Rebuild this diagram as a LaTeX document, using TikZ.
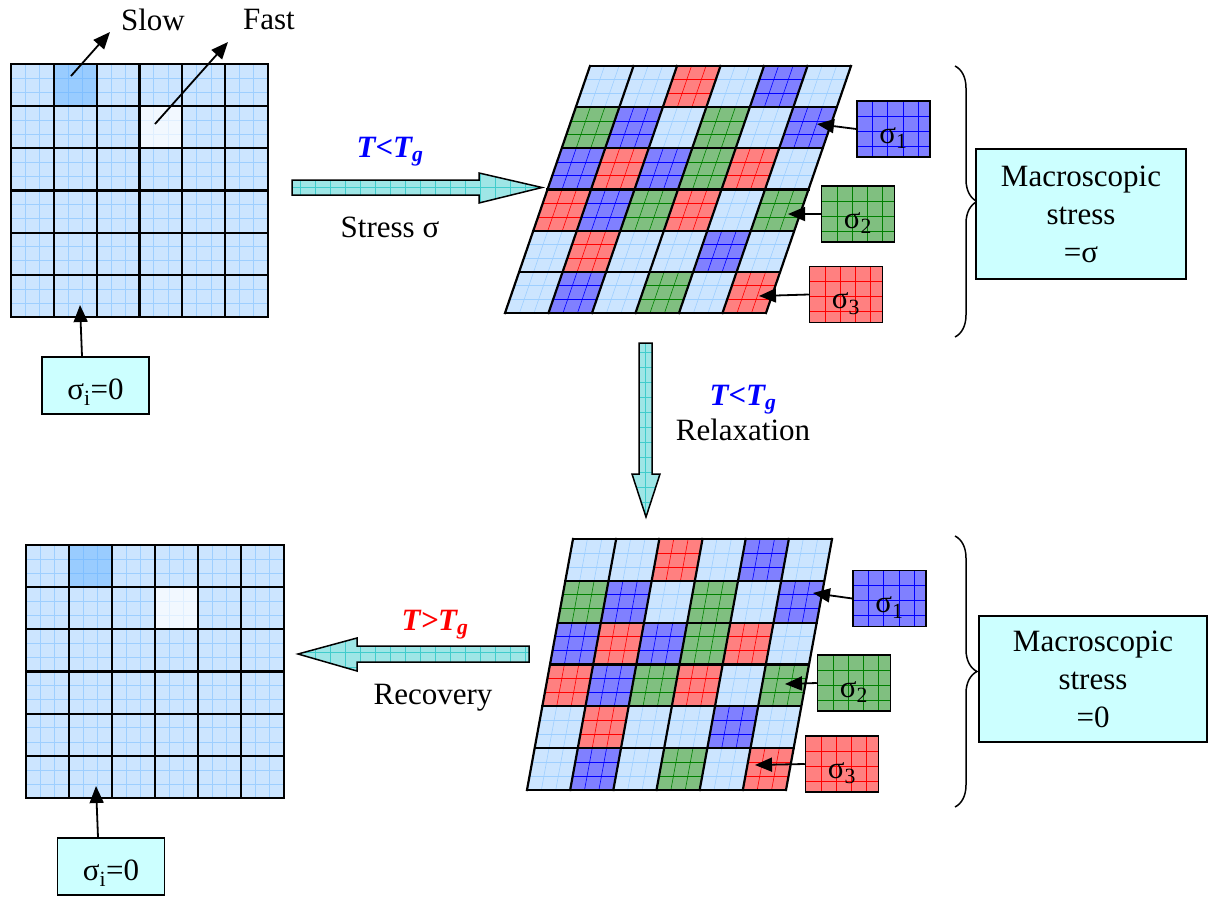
\documentclass[tikz,border=0pt]{standalone}
\usepackage{fontspec}
\setmainfont{Liberation Serif}
\usetikzlibrary{arrows.meta,decorations.pathreplacing}

% cell fills and their fine grid lines
\definecolor{cellL}{HTML}{CCE5FF}\definecolor{lineL}{HTML}{9ECFFF}
\definecolor{cellS}{HTML}{99CCFF}\definecolor{lineS}{HTML}{80BFFF}
\definecolor{cellF}{HTML}{F2F8FF}\definecolor{lineF}{HTML}{E0EFFF}
\definecolor{cellR}{HTML}{FF8080}\definecolor{lineR}{HTML}{FF0000}
\definecolor{cellB}{HTML}{8080FF}\definecolor{lineB}{HTML}{0000FF}
\definecolor{cellG}{HTML}{80BF80}\definecolor{lineG}{HTML}{008000}
\definecolor{boxcyan}{HTML}{CCFFFF}
\definecolor{arrowfill}{HTML}{9EE6E6}
\definecolor{arrowgrid}{HTML}{40CCCC}

\tikzset{
  subline/.style={line width=0.6pt},
  cellwall/.style={line width=2.2pt,line cap=rect},
  pointer/.style={line width=1.8pt,-{Triangle[length=17pt,width=14pt]}},
  sigmabox/.style={draw,line width=1.5pt,fill=cell#1,minimum width=73pt,minimum height=56pt,
    inner sep=0pt,text height=32pt,text depth=4pt,
    path picture={
      \foreach \k in {1,...,4}
        \draw[subline,draw=line#1] ([xshift=\k*15.3pt]path picture bounding box.north west)
          -- ([xshift=\k*15.3pt]path picture bounding box.south west);
      \foreach \k in {1,2,3}
        \draw[subline,draw=line#1] ([yshift=-\k*15pt]path picture bounding box.north west)
          -- ([yshift=-\k*15pt]path picture bounding box.north east);
    }},
  zerobox/.style={draw,line width=1.5pt,fill=boxcyan,minimum width=107pt,minimum height=57pt,
    inner sep=0pt,text height=32pt,text depth=4pt},
  macrobox/.style={draw,line width=1.5pt,fill=boxcyan,align=center,inner sep=0pt},
  blockarrow/.style={fill=arrowfill,draw,line width=1.5pt,
    path picture={
      \draw[arrowgrid,line width=0.6pt,step=15pt,shift={(0,7.5)}]
        ([shift={(-20pt,-20pt)}]path picture bounding box.south west)
        grid ([shift={(20pt,20pt)}]path picture bounding box.north east);
    }},
  macrobrace/.style={decorate,decoration={brace,amplitude=22pt},line width=1.5pt},
  tcond/.style={font=\fontsize{31}{38}\selectfont\bfseries\itshape}
}

% row lists of cell colours
\newcommand{\relaxedcells}{{L,S,L,L,L,L},{L,L,L,F,L,L},{L,L,L,L,L,L},{L,L,L,L,L,L},{L,L,L,L,L,L},{L,L,L,L,L,L}}
\newcommand{\stressedcells}{{L,L,R,L,B,L},{G,B,L,G,L,B},{B,R,B,G,R,L},{R,B,G,R,L,G},{L,R,L,L,B,L},{L,B,L,G,L,R}}

% 6x6 block of cells in the current (possibly slanted) x/y system
\newcommand{\domaingrid}[1]{%
  \foreach \cols [count=\row from 0] in #1 {
    \foreach \c [count=\col from 0] in \cols {
      \fill[fill=cell\c] (\col,\row) -- ++(1,0) -- ++(0,1) -- ++(-1,0) -- cycle;
      \foreach \k in {1,2} {
        \draw[subline,draw=line\c] (\col+\k/3,\row) -- ++(0,1);
        \draw[subline,draw=line\c] (\col,\row+\k/3) -- ++(1,0);
      }
    }
  }
  \foreach \i in {0,...,6} {
    \draw[cellwall] (\i,0) -- (\i,6);
    \draw[cellwall] (0,\i) -- (6,\i);
  }
}

\begin{document}
\begin{tikzpicture}[x=1pt,y=-1pt,every node/.style={font=\fontsize{31}{38}\selectfont}]
	\useasboundingbox (0,0) rectangle (1208,897);
	
	% unstressed sample
	\begin{scope}[shift={(11,64)},x={(42.83pt,0pt)},y={(0pt,-42.17pt)}]
		\domaingrid{\relaxedcells}
	\end{scope}
	
	% sheared sample under stress
	\begin{scope}[shift={(590,66)},x={(43.5pt,0pt)},y={(-14.17pt,-41.17pt)}]
		\domaingrid{\stressedcells}
	\end{scope}
	
	% sheared sample after relaxation
	\begin{scope}[shift={(573,539)},x={(43.17pt,0pt)},y={(-7.67pt,-41.83pt)}]
		\domaingrid{\stressedcells}
	\end{scope}
	
	% recovered sample
	\begin{scope}[shift={(26,545)},x={(43pt,0pt)},y={(0pt,-42.17pt)}]
		\domaingrid{\relaxedcells}
	\end{scope}
	
	% slow and fast domains
	\node (slow) at (153,20) {Slow};
	\node (fast) at (269,20) {Fast};
	\coordinate (slowcell) at (71,76);
	\coordinate (slowtip) at (110,32);
	\coordinate (fastcell) at (155,124);
	\coordinate (fasttip) at (228,42);
	\draw[pointer] (slowcell) -- (slowtip);
	\draw[pointer] (fastcell) -- (fasttip);
	
	% local stress boxes
	\node[zerobox] (zerotop) at (95.5,385.5) {σ\textsubscript{i}=0};
	\node[zerobox] (zerobot) at (111,866.5) {σ\textsubscript{i}=0};
	\coordinate (hitzt) at (80,305);
	\coordinate (hitzb) at (96,786);
	\draw[pointer] ([xshift=-13.5pt]zerotop.north) -- (hitzt);
	\draw[pointer] ([xshift=-13pt]zerobot.north) -- (hitzb);
	
	\node[sigmabox=B] (s1top) at (893.5,129) {σ\textsubscript{1}};
	\node[sigmabox=G] (s2top) at (858,214) {σ\textsubscript{2}};
	\node[sigmabox=R] (s3top) at (846,294.5) {σ\textsubscript{3}};
	\coordinate (hit1t) at (817,124);
	\coordinate (hit2t) at (788,214);
	\coordinate (hit3t) at (759,296);
	\draw[pointer] (s1top.west) -- (hit1t);
	\draw[pointer] (s2top.west) -- (hit2t);
	\draw[pointer] (s3top.west) -- (hit3t);
	
	\node[sigmabox=B] (s1bot) at (889.5,598.5) {σ\textsubscript{1}};
	\node[sigmabox=G] (s2bot) at (854,683) {σ\textsubscript{2}};
	\node[sigmabox=R] (s3bot) at (842,764) {σ\textsubscript{3}};
	\coordinate (hit1b) at (813,593);
	\coordinate (hit2b) at (785,684);
	\coordinate (hit3b) at (755,765);
	\draw[pointer] (s1bot.west) -- (hit1b);
	\draw[pointer] (s2bot.west) -- (hit2b);
	\draw[pointer] (s3bot.west) -- (hit3b);
	
	% macroscopic stress
	\draw[macrobrace] (955,66) -- (955,337);
	\draw[macrobrace] (955,536) -- (955,807);
	\node[macrobox,minimum width=210pt,minimum height=130pt] (macrotop) at (1081,214) {Macroscopic\\stress\\=σ};
	\node[macrobox,minimum width=228pt,minimum height=126pt] (macrobot) at (1093,679) {Macroscopic\\stress\\=0};
	
	% loading, relaxation and recovery steps
	\path[blockarrow] (292,180) -- (479,180) -- (479,173) -- (542,187.5) -- (479,203) -- (479,195) -- (292,195) -- cycle;
	\node[tcond,blue] (tload) at (390,152) {T<T\textsubscript{g}};
	\node (load) at (390,227) {Stress σ};
	
	\path[blockarrow] (639,343) -- (652,343) -- (652,474) -- (660,474) -- (646,517) -- (632,474) -- (639,474) -- cycle;
	\node[tcond,blue] (trelax) at (743,400) {T<T\textsubscript{g}};
	\node (relax) at (743,430) {Relaxation};
	
	\path[blockarrow] (529,646) -- (357,646) -- (357,638) -- (298,654) -- (357,671) -- (357,662) -- (529,662) -- cycle;
	\node[tcond,red] (trecover) at (435,625) {T>T\textsubscript{g}};
	\node (recover) at (433,698) {Recovery};
\end{tikzpicture}
\end{document}
